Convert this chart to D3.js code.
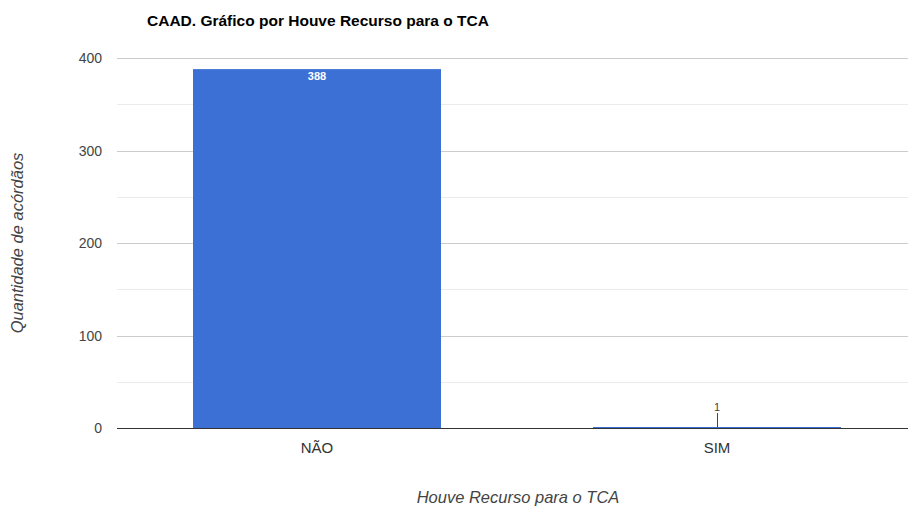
<!DOCTYPE html>
<html>
<head>
<meta charset="utf-8">
<script src="https://cdn.jsdelivr.net/npm/d3@7"></script>
<style>
  body { margin: 0; background: #fff; }
  text { font-family: "Liberation Sans", Arial, sans-serif; }
</style>
</head>
<body>
<svg id="chart" width="908" height="509"></svg>
<script>
const categories = ['NÃO', 'SIM'];
const values = [388, 1];
const yTicks = [0, 100, 200, 300, 400];
const yMinor = [50, 150, 250, 350];

const svg = d3.select('#chart');
const plotLeft = 117, plotRight = 917, plotTop = 58, plotBottom = 428;

const x = d3.scaleBand().domain(categories).range([plotLeft, plotRight])
            .paddingInner(0.38).paddingOuter(0.19);
const y = d3.scaleLinear().domain([0, 400]).range([plotBottom, plotTop]);

// title
svg.append('text')
   .attr('x', 147).attr('y', 26)
   .attr('font-size', 15.5).attr('font-weight', 'bold').attr('fill', '#000')
   .text('CAAD. Gráfico por Houve Recurso para o TCA');

// gridlines
svg.selectAll('.minor').data(yMinor).enter().append('line')
   .attr('x1', plotLeft).attr('x2', 908)
   .attr('y1', d => Math.round(y(d)) + 0.5).attr('y2', d => Math.round(y(d)) + 0.5)
   .attr('stroke', '#ebebeb');
svg.selectAll('.major').data(yTicks.filter(d => d > 0)).enter().append('line')
   .attr('x1', plotLeft).attr('x2', 908)
   .attr('y1', d => Math.round(y(d)) + 0.5).attr('y2', d => Math.round(y(d)) + 0.5)
   .attr('stroke', '#cccccc');

// y tick labels
svg.selectAll('.ytick').data(yTicks).enter().append('text')
   .attr('x', 102).attr('y', d => y(d) + 5)
   .attr('text-anchor', 'end').attr('font-size', 14).attr('fill', '#444')
   .text(d => d);

// baseline
svg.append('line')
   .attr('x1', plotLeft).attr('x2', 908)
   .attr('y1', plotBottom + 0.5).attr('y2', plotBottom + 0.5)
   .attr('stroke', '#333');

// bars
svg.selectAll('.bar').data(values).enter().append('rect')
   .attr('x', (d, i) => x(categories[i]))
   .attr('width', x.bandwidth())
   .attr('y', d => Math.min(y(d), plotBottom - 1))
   .attr('height', d => Math.max(plotBottom - y(d), 1))
   .attr('fill', '#3c70d4');

// value labels
values.forEach((v, i) => {
  const cx = x(categories[i]) + x.bandwidth() / 2;
  if (plotBottom - y(v) > 20) {
    svg.append('text')
       .attr('x', cx).attr('y', y(v) + 11)
       .attr('text-anchor', 'middle').attr('font-size', 11).attr('font-weight', 'bold')
       .attr('fill', '#fff').text(v);
  } else {
    svg.append('line')
       .attr('x1', cx + 0.5).attr('x2', cx + 0.5)
       .attr('y1', y(v) - 14).attr('y2', y(v))
       .attr('stroke', '#444');
    svg.append('text')
       .attr('x', cx).attr('y', y(v) - 16)
       .attr('text-anchor', 'middle').attr('font-size', 11)
       .attr('fill', '#444').text(v);
  }
});

// x tick labels
svg.selectAll('.xtick').data(categories).enter().append('text')
   .attr('x', d => x(d) + x.bandwidth() / 2).attr('y', 453)
   .attr('text-anchor', 'middle').attr('font-size', 15).attr('fill', '#333')
   .text(d => d);

// axis titles
svg.append('text')
   .attr('x', 518).attr('y', 503)
   .attr('text-anchor', 'middle').attr('font-size', 16.5).attr('font-style', 'italic')
   .attr('fill', '#444').text('Houve Recurso para o TCA');
svg.append('text')
   .attr('transform', 'translate(23,243) rotate(-90)')
   .attr('text-anchor', 'middle').attr('font-size', 16.5).attr('font-style', 'italic')
   .attr('fill', '#444').text('Quantidade de acórdãos');
</script>
</body>
</html>
